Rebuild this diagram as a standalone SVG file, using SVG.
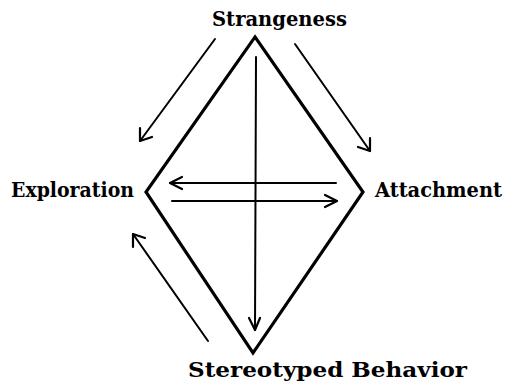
<svg xmlns="http://www.w3.org/2000/svg" width="515" height="383" viewBox="0 0 515 383">
<defs>
<style>
.lbl{font-family:"DejaVu Serif","Liberation Serif",serif;font-size:20.5px;font-weight:bold;fill:#000}
.edge{fill:none;stroke:#000;stroke-width:2;stroke-linecap:round}
.head{fill:none;stroke:#000;stroke-width:2.2;stroke-linecap:round;stroke-linejoin:round}
</style>
</defs>
<rect width="515" height="383" fill="#fff"/>
<g id="diamond">
<polygon points="255,37 363,192 253,353 146,192" fill="none" stroke="#000" stroke-width="3.2" stroke-linejoin="miter"/>
</g>
<g id="strangeness"><text class="lbl" x="212" y="26" textLength="135" lengthAdjust="spacingAndGlyphs">Strangeness</text></g>
<g id="exploration"><text class="lbl" x="11" y="197" textLength="123" lengthAdjust="spacingAndGlyphs">Exploration</text></g>
<g id="attachment"><text class="lbl" x="375" y="197" textLength="127" lengthAdjust="spacingAndGlyphs">Attachment</text></g>
<g id="stereotyped"><text class="lbl" x="188" y="377" textLength="279" lengthAdjust="spacingAndGlyphs">Stereotyped Behavior</text></g>
<g id="connectors">
<!-- vertical -->
<line class="edge" x1="256" y1="57" x2="255" y2="330"/>
<polyline class="head" points="249,318 255,330 260,318"/>
<!-- upper horizontal, left -->
<line class="edge" x1="336" y1="183" x2="170" y2="183"/>
<polyline class="head" points="182,177 170,183 182,189"/>
<!-- lower horizontal, right -->
<line class="edge" x1="172" y1="201" x2="337" y2="201"/>
<polyline class="head" points="325,195 337,201 325,207"/>
<!-- top-left diagonal -->
<line class="edge" x1="215" y1="39" x2="140" y2="141"/>
<polyline class="head" points="140,128 140,141 152,137"/>
<!-- top-right diagonal -->
<line class="edge" x1="295" y1="44" x2="370" y2="151"/>
<polyline class="head" points="358,147 370,151 370,138"/>
<!-- bottom-left diagonal -->
<line class="edge" x1="208" y1="341" x2="133" y2="234"/>
<polyline class="head" points="133,247 133,234 145,238"/>
</g>
</svg>
